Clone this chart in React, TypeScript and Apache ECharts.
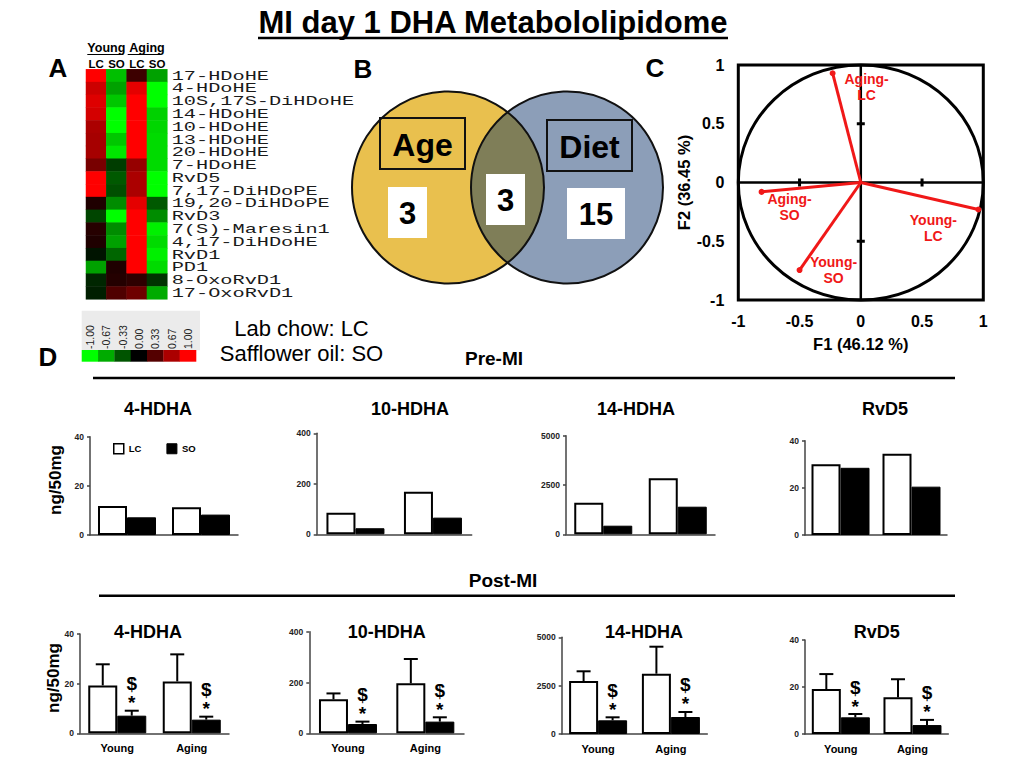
import React, { useEffect, useRef } from "react";
import * as echarts from "echarts";

// ---------------- data ----------------
const heatmapColumns = ["Young LC", "Young SO", "Aging LC", "Aging SO"];
const heatmapColumnShort = ["LC", "SO", "LC", "SO"];
const heatmapRows = [
  "17-HDoHE", "4-HDoHE", "10S,17S-DiHDoHE", "14-HDoHE", "10-HDoHE", "13-HDoHE",
  "20-HDoHE", "7-HDoHE", "RvD5", "7,17-DiHDoPE", "19,20-DiHDoPE", "RvD3",
  "7(S)-Maresin1", "4,17-DiHDoHE", "RvD1", "PD1", "8-OxoRvD1", "17-OxoRvD1",
];
const heatYoungLC = [1.0, 0.8, 0.87, 0.83, 0.67, 0.65, 0.65, 0.47, 1.0, 1.0, 0.12, -0.27, 0.15, 0.12, -0.08, -0.63, -0.15, -0.12];
const heatYoungSO = [-0.75, -0.63, -0.78, -1.0, -1.0, -0.78, -0.9, -0.24, -0.35, -0.31, -0.55, -1.0, -0.55, -0.63, -0.4, 0.12, 0.14, 0.31];
const heatAgingLC = [0.24, 0.9, 1, 1, 1, 1, 1, 0.59, 0.67, 0.67, 0.9, 1, 1, 1, 1, 1, 0.18, 0.43];
const heatAgingSO = [-0.63, -1, -1, -0.82, -0.84, -0.86, -0.86, -0.86, -1, -1, -0.35, -0.55, -0.94, -0.86, -0.94, -0.86, -0.2, -0.67];
const heatColumnsData = [heatYoungLC, heatYoungSO, heatAgingLC, heatAgingSO];
const colorbarValues = [-1, -0.67, -0.33, 0, 0.33, 0.67, 1];
const colorbarLabels = ["-1.00", "-0.67", "-0.33", "0.00", "0.33", "0.67", "1.00"];

const vennSets = ["Age", "Diet"];
const vennCounts = ["3", "3", "15"]; // Age only, both, Diet only

const pcaLabels = ["Aging-LC", "Aging-SO", "Young-LC", "Young-SO"];
const pcaF1 = [-0.23, -0.81, 0.96, -0.5];
const pcaF2 = [0.93, -0.08, -0.23, -0.745];
const pcaTicks = [-0.5, 0.5];

const analytes = ["4-HDHA", "10-HDHA", "14-HDHA", "RvD5"];
const groups = ["Young", "Aging"];
const yMax = [40, 400, 5000, 40];
const yStep = [20, 200, 2500, 20];
const preLC = [[11.8, 11.3], [85, 169], [1600, 2840], [30, 34.5]];
const preSO = [[7.2, 8.3], [24, 66], [436, 1400], [28.5, 20.5]];
const postLC = [[19.3, 20.9], [134, 197], [2740, 3118], [19.1, 15.6]];
const postLCsem = [[8.5, 10.9], [23, 95.5], [502, 1396], [6.4, 7.7]];
const postSO = [[7.1, 5.5], [36.6, 46], [708, 879], [7.1, 3.8]];
const postSOsem = [[2.0, 1.2], [9.4, 17], [155, 259], [1.4, 2.2]];
const postSOsignificant = [[true, true], [true, true], [true, true], [true, true]];

// ---------------- layout / style ----------------
const FONT = "'Liberation Sans', Arial, Helvetica, sans-serif";
const NARROW = "'Liberation Sans Narrow', 'Arial Narrow', 'Liberation Sans', sans-serif";
const MONO = "'Liberation Mono', 'Courier New', monospace";
const RED = "#f01818";
const heatColors = ["#00ff00", "#000000", "#ff0000"];
const HEAT = { left: 86, top: 69.3, width: 81.3, height: 230 };
const PCA = { left: 738.3, top: 65, width: 245, height: 235 };
const preGrids = [
  { left: 90, top: 436.7, width: 148, height: 98.3 },
  { left: 316.7, top: 433.3, width: 155, height: 101 },
  { left: 566, top: 435.7, width: 149, height: 98.6 },
  { left: 805, top: 440.7, width: 142, height: 94.3 },
];
const postGrids = [
  { left: 80, top: 634, width: 149, height: 99.3 },
  { left: 309.3, top: 631.7, width: 154.7, height: 101.6 },
  { left: 561.7, top: 637.3, width: 145.6, height: 96.7 },
  { left: 805, top: 640, width: 143.3, height: 94 },
];
const preTitleX = [158, 410, 636, 885];
const postTitleX = [148, 386.7, 644, 876.7];
const pcaLabelOffsets = [[34, 14], [28, 15], [-45, 18], [34, 0]];
const BAR_W = 29;

// Venn geometry
const C1 = { x: 448, y: 187.5, r: 96 };
const C2 = { x: 567, y: 187.5, r: 96 };
const lensPath = (() => {
  const a = (C2.x - C1.x) / 2;
  const h = Math.sqrt(C1.r * C1.r - a * a);
  const mx = C1.x + a;
  const t = C1.y - h;
  const b = C1.y + h;
  return `M ${mx} ${t} A ${C1.r} ${C1.r} 0 0 1 ${mx} ${b} A ${C2.r} ${C2.r} 0 0 1 ${mx} ${t} Z`;
})();
echarts.graphic.registerShape("vennLens", echarts.graphic.extendPath(lensPath, {}));

function txt(text: string, x: number, y: number, size: number, o: any = {}) {
  return {
    type: "text",
    x,
    y,
    rotation: o.rotation || 0,
    scaleX: o.scaleX || 1,
    z: 20,
    silent: true,
    style: {
      text,
      fontSize: size,
      fontWeight: o.weight || "bold",
      fontFamily: o.family || FONT,
      fill: o.color || "#000",
      textAlign: o.align || "center",
      textVerticalAlign: o.valign || "middle",
    },
  };
}
function hline(x1: number, x2: number, y: number, w = 2.5) {
  return { type: "line", z: 20, silent: true, shape: { x1, y1: y, x2, y2: y }, style: { stroke: "#000", lineWidth: w } };
}

function buildGraphics() {
  const els: any[] = [];
  // main title
  els.push(txt("MI day 1 DHA Metabololipidome", 493, 22, 31, { family: NARROW }));
  els.push(hline(258, 728, 38, 2.5));
  // panel letters
  els.push(txt("A", 58, 68, 26));
  els.push(txt("B", 363, 68.5, 26));
  els.push(txt("C", 655, 68, 26));
  els.push(txt("D", 48, 357, 26));

  // heatmap header
  const cw = HEAT.width / 4;
  els.push(txt("Young", HEAT.left + cw, 47.5, 12.5, { family: NARROW }));
  els.push(hline(87.3, 123.3, 54.5, 1.2));
  els.push(txt("Aging", HEAT.left + 3 * cw, 47.5, 12.5, { family: NARROW }));
  els.push(hline(127.7, 160.7, 54.5, 1.2));
  heatmapColumnShort.forEach((c, j) => {
    els.push(txt(c, HEAT.left + cw * (j + 0.5), 63.5, 11.5, { family: NARROW }));
  });
  // row labels
  const rh = HEAT.height / heatmapRows.length;
  heatmapRows.forEach((r, i) => {
    els.push(
      txt(r, 171.7, HEAT.top + rh * (i + 0.5) + 0.5, 13, { family: MONO, weight: "normal", align: "left", scaleX: 1.56, color: "#1a1a1a" })
    );
  });

  // colour bar
  els.push({ type: "rect", silent: true, z: 5, shape: { x: 81.7, y: 310.7, width: 118.3, height: 39.5 }, style: { fill: "#ebebeb" } });
  const bw = (196 - 81.7) / colorbarValues.length;
  colorbarValues.forEach((v, i) => {
    const col = echarts.color.lerp((v + 1) / 2, heatColors);
    els.push({ type: "rect", silent: true, z: 6, shape: { x: 81.7 + bw * i, y: 350, width: bw + 0.3, height: 11.7 }, style: { fill: col } });
    els.push(txt(colorbarLabels[i], 81.7 + bw * (i + 0.5), 349, 10.5, { weight: "normal", rotation: Math.PI / 2, align: "left", color: "#222" }));
  });
  els.push(txt("Lab chow: LC", 301.5, 328, 22, { weight: "normal" }));
  els.push(txt("Safflower oil: SO", 301.5, 353, 22, { weight: "normal" }));

  // Venn
  els.push({ type: "circle", silent: true, z: 5, shape: { cx: C1.x, cy: C1.y, r: C1.r }, style: { fill: "#e9c04e" } });
  els.push({ type: "circle", silent: true, z: 5, shape: { cx: C2.x, cy: C2.y, r: C2.r }, style: { fill: "#8c9eb8" } });
  els.push({ type: "vennLens", silent: true, z: 6, x: 0, y: 0, style: { fill: "#7f7e58" } });
  els.push({ type: "circle", silent: true, z: 7, shape: { cx: C1.x, cy: C1.y, r: C1.r }, style: { fill: "transparent", stroke: "#111", lineWidth: 2 } });
  els.push({ type: "circle", silent: true, z: 7, shape: { cx: C2.x, cy: C2.y, r: C2.r }, style: { fill: "transparent", stroke: "#111", lineWidth: 2 } });
  els.push({ type: "rect", silent: true, z: 8, shape: { x: 380, y: 118, width: 85, height: 51 }, style: { fill: "transparent", stroke: "#111", lineWidth: 2 } });
  els.push({ type: "rect", silent: true, z: 8, shape: { x: 547, y: 120, width: 85, height: 51 }, style: { fill: "transparent", stroke: "#111", lineWidth: 2 } });
  els.push(txt(vennSets[0], 422.5, 144.5, 32));
  els.push(txt(vennSets[1], 589.5, 146.5, 32));
  els.push({ type: "rect", silent: true, z: 8, shape: { x: 388, y: 187, width: 39, height: 51 }, style: { fill: "#fff" } });
  els.push({ type: "rect", silent: true, z: 8, shape: { x: 486, y: 174, width: 39, height: 51 }, style: { fill: "#fff" } });
  els.push({ type: "rect", silent: true, z: 8, shape: { x: 567, y: 188, width: 58, height: 51 }, style: { fill: "#fff" } });
  els.push(txt(vennCounts[0], 407.5, 213, 31));
  els.push(txt(vennCounts[1], 505.5, 200, 31));
  els.push(txt(vennCounts[2], 596, 214, 31));

  // section headers
  els.push(txt("Pre-MI", 494, 358, 19));
  els.push(hline(93, 955, 378, 2.5));
  els.push(txt("Post-MI", 503, 580, 19));
  els.push(hline(99, 955, 595.7, 2.5));
  analytes.forEach((a, k) => {
    els.push(txt(a, preTitleX[k], 409, 18));
    els.push(txt(a, postTitleX[k], 631.7, 18));
  });
  els.push(txt("ng/50mg", 55, 480, 17, { rotation: Math.PI / 2 }));
  els.push(txt("ng/50mg", 53, 678, 17, { rotation: Math.PI / 2 }));
  return els;
}

function buildOption() {
  const grids: any[] = [
    { ...HEAT },
    { ...PCA, show: true, borderColor: "#000", borderWidth: 3, backgroundColor: "transparent" },
    ...preGrids,
    ...postGrids,
  ];
  const pcaAxisLabel = { fontSize: 16, fontWeight: "bold", color: "#000", fontFamily: FONT };
  const pcaAxisName = { fontSize: 16.5, fontWeight: "bold", color: "#000", fontFamily: FONT };
  const xAxis: any[] = [
    { gridIndex: 0, type: "category", data: heatmapColumns, show: false },
    {
      gridIndex: 1, type: "value", min: -1, max: 1, interval: 0.5,
      axisLine: { show: false }, axisTick: { show: false }, splitLine: { show: false },
      axisLabel: { ...pcaAxisLabel, margin: 13 },
      name: "F1 (46.12 %)", nameLocation: "middle", nameGap: 35, nameTextStyle: pcaAxisName,
    },
  ];
  const yAxis: any[] = [
    { gridIndex: 0, type: "category", data: heatmapRows, inverse: true, show: false },
    {
      gridIndex: 1, type: "value", min: -1, max: 1, interval: 0.5,
      axisLine: { show: false }, axisTick: { show: false }, splitLine: { show: false },
      axisLabel: { ...pcaAxisLabel, margin: 14 },
      name: "F2 (36.45 %)", nameLocation: "middle", nameGap: 37, nameTextStyle: pcaAxisName,
    },
  ];
  const axisLineStyle = { color: "#444", width: 1.5 };
  for (let g = 0; g < 8; g++) {
    const k = g % 4;
    const post = g >= 4;
    xAxis.push({
      gridIndex: g + 2, type: "category", data: groups,
      axisLine: { show: true, lineStyle: axisLineStyle }, axisTick: { show: false },
      axisLabel: { show: post, fontSize: 11, fontWeight: "bold", color: "#000", margin: 9, fontFamily: FONT },
    });
    yAxis.push({
      gridIndex: g + 2, type: "value", min: 0, max: yMax[k], interval: yStep[k],
      axisLine: { show: true, lineStyle: axisLineStyle },
      axisTick: { show: true, length: 3, lineStyle: axisLineStyle },
      axisLabel: { fontSize: 8.5, fontWeight: "bold", color: "#222", margin: 6, fontFamily: FONT, formatter: (v: number) => String(v) },
      splitLine: { show: false },
    });
  }

  const heatData: any[] = [];
  heatmapRows.forEach((_, i) => {
    heatColumnsData.forEach((col, j) => heatData.push([j, i, col[i]]));
  });

  const series: any[] = [
    { type: "heatmap", xAxisIndex: 0, yAxisIndex: 0, data: heatData, silent: true },
    {
      type: "custom", xAxisIndex: 1, yAxisIndex: 1, z: 2, silent: true, data: [[0, 0]],
      renderItem: (_p: any, api: any) => {
        const o = api.coord([0, 0]);
        const s = api.size([1, 1]);
        const l = api.coord([-1, 0]), r = api.coord([1, 0]), t = api.coord([0, 1]), b = api.coord([0, -1]);
        const children: any[] = [
          { type: "ellipse", shape: { cx: o[0], cy: o[1], rx: s[0], ry: s[1] }, style: { fill: "transparent", stroke: "#000", lineWidth: 3 } },
          { type: "line", shape: { x1: l[0], y1: l[1], x2: r[0], y2: r[1] }, style: { stroke: "#000", lineWidth: 2.5 } },
          { type: "line", shape: { x1: t[0], y1: t[1], x2: b[0], y2: b[1] }, style: { stroke: "#000", lineWidth: 2.5 } },
        ];
        pcaTicks.forEach((v) => {
          const px = api.coord([v, 0]);
          children.push({ type: "line", shape: { x1: px[0], y1: px[1] - 4, x2: px[0], y2: px[1] + 4 }, style: { stroke: "#000", lineWidth: 3 } });
          const py = api.coord([0, v]);
          children.push({ type: "line", shape: { x1: py[0] - 4, y1: py[1], x2: py[0] + 4, y2: py[1] }, style: { stroke: "#000", lineWidth: 3 } });
        });
        return { type: "group", children };
      },
    },
  ];
  pcaLabels.forEach((name, i) => {
    series.push({
      type: "line", name, xAxisIndex: 1, yAxisIndex: 1, z: 3, silent: true, showSymbol: false,
      data: [[0, 0], [pcaF1[i], pcaF2[i]]],
      lineStyle: { color: RED, width: 3 },
    });
  });
  series.push({
    type: "scatter", xAxisIndex: 1, yAxisIndex: 1, z: 4, silent: true, symbolSize: 6,
    itemStyle: { color: RED, opacity: 1 },
    data: pcaLabels.map((name, i) => ({ name, value: [pcaF1[i], pcaF2[i]], label: { offset: pcaLabelOffsets[i] } })),
    label: {
      show: true, position: "inside", color: RED, opacity: 1, fontSize: 14, fontWeight: "bold", lineHeight: 16, fontFamily: FONT,
      formatter: (p: any) => p.name.replace("-", "-\n"),
    },
  });

  for (let g = 0; g < 8; g++) {
    const k = g % 4;
    const post = g >= 4;
    const lc = post ? postLC[k] : preLC[k];
    const so = post ? postSO[k] : preSO[k];
    const axis = g + 2;
    series.push({
      type: "bar", name: "LC", xAxisIndex: axis, yAxisIndex: axis, data: lc, barWidth: BAR_W, barGap: "0%", silent: true,
      itemStyle: { color: "#fff", borderColor: "#000", borderWidth: 2 },
    });
    series.push({
      type: "bar", name: "SO", xAxisIndex: axis, yAxisIndex: axis, data: so, barWidth: BAR_W, barGap: "0%", silent: true,
      itemStyle: { color: "#000", borderColor: "#000", borderWidth: 1 },
    });
    if (post) {
      const errData: any[] = [];
      groups.forEach((_, c) => {
        errData.push([c, lc[c] + postLCsem[k][c], lc[c], 0, 0]);
        errData.push([c, so[c] + postSOsem[k][c], so[c], 1, postSOsignificant[k][c] ? 1 : 0]);
      });
      series.push({
        type: "custom", xAxisIndex: axis, yAxisIndex: axis, z: 6, silent: true, data: errData,
        encode: { x: 0, y: 1 },
        renderItem: (_p: any, api: any) => {
          const cat = api.value(0), top = api.value(1), mean = api.value(2), side = api.value(3), sig = api.value(4);
          const pt = api.coord([cat, top]);
          const pm = api.coord([cat, mean]);
          const x = pt[0] + (side ? 1 : -1) * (BAR_W / 2);
          const children: any[] = [
            { type: "line", shape: { x1: x, y1: pm[1], x2: x, y2: pt[1] }, style: { stroke: "#000", lineWidth: 2 } },
            { type: "line", shape: { x1: x - 7, y1: pt[1], x2: x + 7, y2: pt[1] }, style: { stroke: "#000", lineWidth: 2 } },
          ];
          if (sig) {
            children.push({ type: "text", x, y: pt[1] - 8, style: { text: "*", fontSize: 19, fontWeight: "bold", fontFamily: FONT, fill: "#000", textAlign: "center", textVerticalAlign: "middle" } });
            children.push({ type: "text", x, y: pt[1] - 27, style: { text: "$", fontSize: 19, fontWeight: "bold", fontFamily: FONT, fill: "#000", textAlign: "center", textVerticalAlign: "middle" } });
          }
          return { type: "group", children };
        },
      });
    }
  }

  return {
    animation: false,
    backgroundColor: "#fff",
    textStyle: { fontFamily: FONT },
    grid: grids,
    xAxis,
    yAxis,
    visualMap: {
      type: "continuous", show: false, min: -1, max: 1, dimension: 2, seriesIndex: 0,
      inRange: { color: heatColors },
    },
    legend: {
      data: [
        { name: "LC", icon: "rect", itemStyle: { color: "#fff", borderColor: "#000", borderWidth: 1.5 } },
        { name: "SO", icon: "rect", itemStyle: { color: "#000", borderColor: "#000", borderWidth: 1 } },
      ],
      left: 113, top: 443, padding: 0, itemWidth: 10, itemHeight: 10, itemGap: 25, selectedMode: false,
      textStyle: { fontSize: 9.5, fontWeight: "bold", color: "#000", fontFamily: FONT },
    },
    graphic: buildGraphics(),
    series,
  };
}

export default function App() {
  const ref = useRef<HTMLDivElement>(null);
  useEffect(() => {
    if (!ref.current) return;
    const chart = echarts.init(ref.current, null, { renderer: "svg" });
    chart.setOption(buildOption() as any);
    return () => chart.dispose();
  }, []);
  return (
    <div
      ref={ref}
      style={{ position: "absolute", left: 0, top: 0, width: 1020, height: 765, background: "#fff" }}
    />
  );
}
